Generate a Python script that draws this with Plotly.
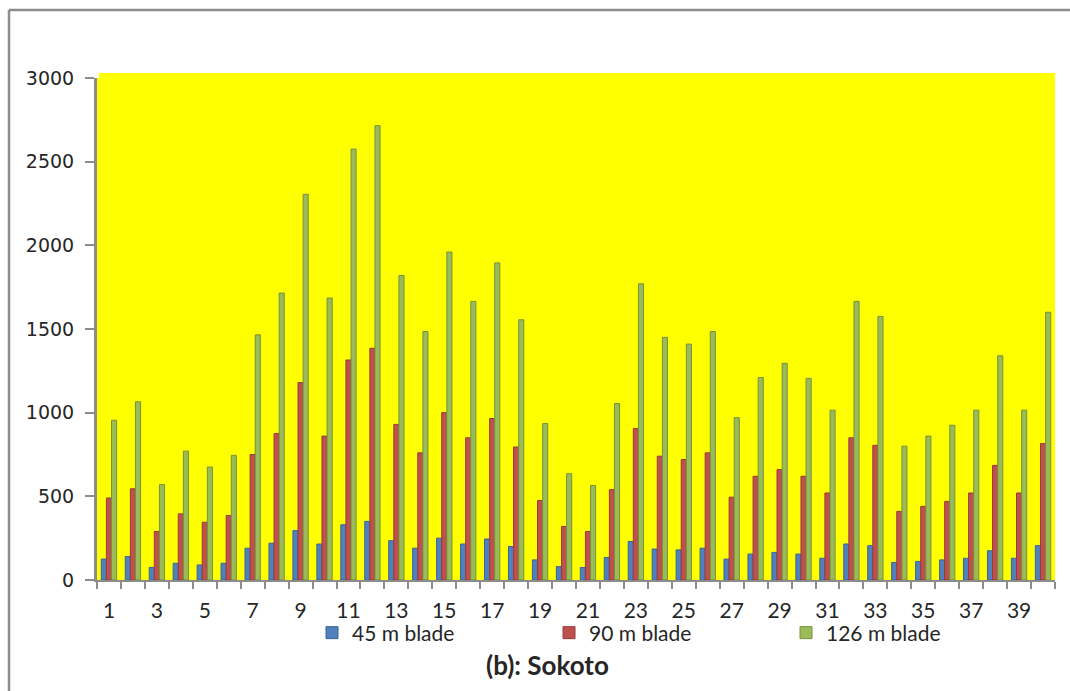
import plotly.graph_objects as go

categories = list(range(1, 41))
blade_45 = [125, 140, 75, 100, 90, 100, 190, 220, 295, 215,
            330, 350, 235, 190, 250, 215, 245, 200, 120, 80,
            75, 135, 230, 185, 180, 190, 125, 155, 165, 155,
            130, 215, 205, 105, 110, 120, 130, 175, 130, 205]
blade_90 = [490, 545, 290, 395, 345, 385, 750, 875, 1180, 860,
            1315, 1385, 930, 760, 1000, 850, 965, 795, 475, 320,
            290, 540, 905, 740, 720, 760, 495, 620, 660, 620,
            520, 850, 805, 410, 440, 470, 520, 685, 520, 815]
blade_126 = [955, 1065, 570, 770, 675, 745, 1465, 1715, 2305, 1685,
             2575, 2715, 1820, 1485, 1960, 1665, 1895, 1555, 935, 635,
             565, 1055, 1770, 1450, 1410, 1485, 970, 1210, 1295, 1205,
             1015, 1665, 1575, 800, 860, 925, 1015, 1340, 1015, 1600]
series_names = ["45 m blade", "90 m blade", "126 m blade"]
x_tick_vals = list(range(1, 41, 2))
x_tick_text = [str(v) for v in x_tick_vals]
y_tick_vals = [0, 500, 1000, 1500, 2000, 2500, 3000]

fills = ["#4F81BD", "#C0504D", "#9BBB59"]
edges = ["#3A6395", "#943C3A", "#76923C"]

fig = go.Figure()
for name, vals, fc, ec in zip(series_names, [blade_45, blade_90, blade_126], fills, edges):
    fig.add_trace(go.Bar(x=categories, y=vals, name=name,
                         marker=dict(color=fc, line=dict(color=ec, width=1))))

W, H = 1070, 691
L, R, T, B = 97, 15, 78, 111
pw, ph = W - L - R, H - T - B

def px(x):
    return (x - L) / pw

def py(y):
    return (H - B - y) / ph

fig.update_layout(
    width=W, height=H,
    margin=dict(l=L, r=R, t=T, b=B, autoexpand=False),
    paper_bgcolor="white",
    plot_bgcolor="#FFFF00",
    barmode="group",
    bargap=0.36,
    bargroupgap=0,
    font=dict(family="Lato, sans-serif", color="#262626"),
    showlegend=True,
    legend=dict(orientation="h", x=px(312), xanchor="left", y=py(633), yanchor="middle",
                entrywidth=192, entrywidthmode="pixels",
                font=dict(family="Lato, sans-serif", size=21, color="#262626"),
                bgcolor="rgba(0,0,0,0)", traceorder="normal", itemwidth=30),
    xaxis=dict(range=[0.5, 40.5], tickmode="array", tickvals=x_tick_vals, ticktext=x_tick_text,
               ticks="", showgrid=False, zeroline=False, showline=True, linecolor="#8C8C8C",
               linewidth=2, tickfont=dict(family="Lato, sans-serif", size=21, color="#262626"),
               ticklabelstandoff=11,
               minor=dict(tick0=0.5, dtick=1, ticks="outside", ticklen=7, tickcolor="#8C8C8C",
                          tickwidth=2, showgrid=False)),
    yaxis=dict(range=[0, 3000], tickmode="array", tickvals=y_tick_vals, ticks="outside",
               ticklen=9, tickcolor="#8C8C8C", tickwidth=2, showgrid=False, zeroline=False,
               showline=True, linecolor="#8C8C8C", linewidth=3,
               tickfont=dict(family="DejaVu Sans, sans-serif", size=19, color="#262626"),
               ticklabelstandoff=7),
)

# yellow back wall extends a little above the 3000 level
fig.add_shape(type="rect", xref="paper", yref="paper", x0=px(99), x1=1, y0=1, y1=py(73),
              fillcolor="#FFFF00", line=dict(width=0), layer="below")

fig.add_annotation(text="<b>(b): Sokoto</b>", xref="paper", yref="paper",
                   x=px(547), y=py(665), xanchor="center", yanchor="middle",
                   showarrow=False, font=dict(family="Lato, sans-serif", size=26, color="#262626"))

# chart area border (top and left visible)
fig.add_shape(type="line", xref="paper", yref="paper", x0=px(9), x1=px(1075), y0=py(10), y1=py(10),
              line=dict(color="#8C8C8C", width=2.5))
fig.add_shape(type="line", xref="paper", yref="paper", x0=px(9), x1=px(9), y0=py(10), y1=py(700),
              line=dict(color="#8C8C8C", width=2.5))

fig.write_html("out.html")
